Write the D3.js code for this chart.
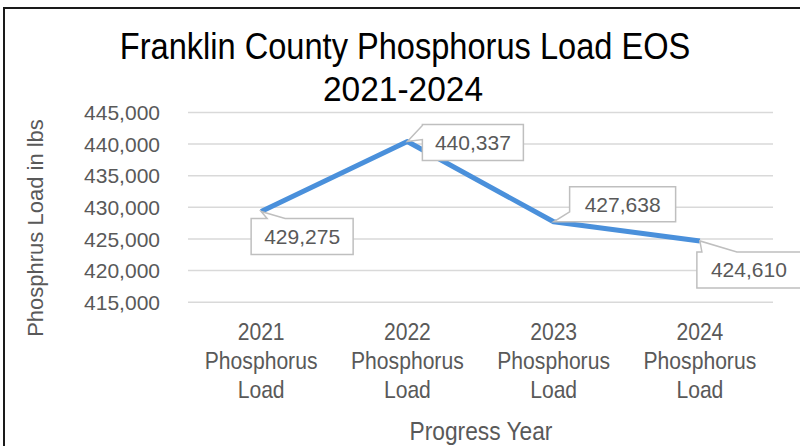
<!DOCTYPE html>
<html><head>
<meta charset="utf-8">
<title>Franklin County Phosphorus Load EOS</title>
<script src="https://d3js.org/d3.v7.min.js"></script>
<style>
  body { margin: 0; background: white; }
  .title { font-family: 'Liberation Sans', Arial, sans-serif; font-size: 36px; fill: #000; }
  .tick text { font-family: 'Liberation Sans', Arial, sans-serif; font-size: 21px; fill: #595959; }
  .xlab { font-family: 'Liberation Sans', Arial, sans-serif; font-size: 24px; fill: #595959; }
  .label { font-family: 'Liberation Sans', Arial, sans-serif; font-size: 21px; fill: #595959; }
  .axtitle { font-family: 'Liberation Sans', Arial, sans-serif; font-size: 22px; fill: #595959; }
</style>
</head>
<body>
<svg id="chart" width="800" height="446"></svg>
<script>
  // data
  const years = ["2021", "2022", "2023", "2024"];
  const categories = years.map(y => y + " Phosphorus Load");
  const loads = [429275, 440337, 427638, 424610];
  const yTicks = [415000, 420000, 425000, 430000, 435000, 440000, 445000];

  // callout placement (box offset from point, box size, which side the pointer leaves, pointer base)
  const callouts = [
    {dx: -10, dy: 7, w: 102, h: 36, side: "top", b0: 16, b1: 34},
    {dx: 15, dy: -17, w: 101, h: 36, side: "left", b0: 1, b1: 15},
    {dx: 16, dy: -35, w: 106, h: 35, side: "left", b0: 25, b1: 35},
    {dx: -3, dy: 11, w: 104, h: 36, side: "top", b0: 5, b1: 40}
  ];

  const svg = d3.select("#chart");

  // outer frame
  svg.append("rect")
     .attr("x", 4).attr("y", 8)
     .attr("width", 810).attr("height", 460)
     .attr("fill", "white")
     .attr("stroke", "#1a1a1a")
     .attr("stroke-width", 2);

  // title (condensed look via horizontal squeeze)
  svg.append("text").attr("class", "title")
     .attr("text-anchor", "middle")
     .attr("transform", "translate(405,59) scale(0.905,1)")
     .text("Franklin County Phosphorus Load EOS");
  svg.append("text").attr("class", "title")
     .attr("text-anchor", "middle")
     .attr("transform", "translate(403,101) scale(0.93,1)")
     .text("2021-2024");

  const xScale = d3.scaleBand().domain(categories).range([188, 773]);
  const yScale = d3.scaleLinear().domain([415000, 445000]).range([301.7, 112]);

  // gridlines
  svg.append("g")
     .attr("transform", "translate(188,0)")
     .call(d3.axisLeft(yScale).tickValues(yTicks).tickSize(-585).tickFormat(""))
     .call(g => g.select(".domain").remove())
     .call(g => g.selectAll("line").attr("stroke", "#d9d9d9").attr("stroke-width", 1.5));

  // y axis labels
  svg.append("g")
     .attr("transform", "translate(188,0)")
     .call(d3.axisLeft(yScale).tickValues(yTicks).tickSize(0).tickPadding(28).tickFormat(d3.format(",")))
     .call(g => g.select(".domain").remove())
     .call(g => g.selectAll("text").attr("dy", "0.36em"));

  // x axis labels, three lines each
  const xAxis = svg.append("g")
     .attr("transform", "translate(0,302)")
     .call(d3.axisBottom(xScale).tickSize(0).tickFormat(""))
     .call(g => g.select(".domain").remove());
  xAxis.selectAll(".tick").each(function(d, i) {
    const t = d3.select(this).append("text")
       .attr("class", "xlab")
       .attr("text-anchor", "middle")
       .attr("transform", "scale(0.88,1)");
    [years[i], "Phosphorus", "Load"].forEach((s, k) => {
      t.append("tspan").attr("x", 0).attr("y", 38 + k * 29).text(s);
    });
  });
  xAxis.selectAll(".tick text.xlab").style("font-size", "24px").style("fill", "#595959");

  // axis titles
  svg.append("text").attr("class", "axtitle")
     .attr("text-anchor", "middle")
     .attr("transform", "translate(43,228) rotate(-90)")
     .text("Phosphrus Load in lbs");
  svg.append("text").attr("class", "axtitle")
     .attr("text-anchor", "middle")
     .attr("transform", "translate(481,440) scale(0.91,1)")
     .style("font-size", "25px")
     .text("Progress Year");

  // line
  const pts = loads.map((v, i) => [xScale(categories[i]) + xScale.bandwidth() / 2, yScale(v)]);
  svg.append("path")
     .datum(pts)
     .attr("fill", "none")
     .attr("stroke", "#4A90DB")
     .attr("stroke-width", 5)
     .attr("stroke-linejoin", "round")
     .attr("d", d3.line());

  // data label callouts
  function calloutPath(p, c) {
    const x0 = p[0] + c.dx, y0 = p[1] + c.dy, x1 = x0 + c.w, y1 = y0 + c.h;
    if (c.side === "top") {
      return `M${x0},${y0} L${x0 + c.b0},${y0} L${p[0]},${p[1]} L${x0 + c.b1},${y0} L${x1},${y0} L${x1},${y1} L${x0},${y1} Z`;
    }
    return `M${x0},${y0} L${x1},${y0} L${x1},${y1} L${x0},${y1} L${x0},${y0 + c.b1} L${p[0]},${p[1]} L${x0},${y0 + c.b0} Z`;
  }

  const labels = svg.append("g").selectAll("g").data(loads).join("g");
  labels.append("path")
     .attr("d", (d, i) => calloutPath(pts[i], callouts[i]))
     .attr("fill", "white")
     .attr("stroke", "#bfbfbf")
     .attr("stroke-width", 1.5);
  labels.append("text")
     .attr("class", "label")
     .attr("text-anchor", "middle")
     .attr("x", (d, i) => pts[i][0] + callouts[i].dx + callouts[i].w / 2)
     .attr("y", (d, i) => pts[i][1] + callouts[i].dy + callouts[i].h / 2)
     .attr("dy", "0.36em")
     .text(d => d3.format(",")(d));
</script>
</body>
</html>
